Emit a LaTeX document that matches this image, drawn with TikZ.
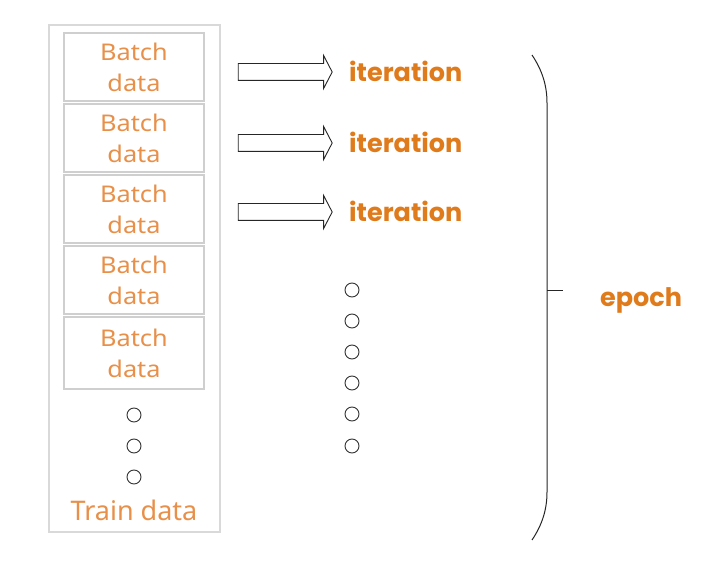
\documentclass[tikz,border=0pt]{standalone}
\usepackage{fontspec}
\setmainfont{Noto Sans}
\newfontfamily\batchfam{Noto Sans}[FakeStretch=1.1]
\newfontfamily\boldfam{Poppins}[UprightFont=* Bold]
\usetikzlibrary{shapes.arrows}
\definecolor{batchor}{HTML}{E8904A}
\definecolor{iteror}{HTML}{E07B1C}
\definecolor{boxgray}{HTML}{CFCFCF}
\tikzset{
  batchbox/.style={draw=boxgray, line width=1.2pt, minimum width=140pt, minimum height=68pt, inner sep=0pt,
    text=batchor, align=center, font=\batchfam\fontsize{23}{31}\selectfont},
  iterlabel/.style={text=iteror, font=\boldfam\fontsize{25.5}{28}\selectfont, anchor=west, inner sep=0pt},
  dotc/.style={draw=black!80, line width=0.9pt, circle, minimum size=14pt, inner sep=0pt},
  fatarrow/.style={draw=black!85, line width=0.9pt, single arrow, single arrow head extend=8pt,
    single arrow tip angle=125, minimum height=94pt, inner sep=0pt},
}
\begin{document}
\begin{tikzpicture}[x=1pt,y=-1pt]
\useasboundingbox[fill=white] (0,0) rectangle (718,572);
\node[draw=boxgray!80, line width=1.2pt, minimum width=171pt, minimum height=507pt, inner sep=0pt] (train) at (134.5,278.5) {};
\node[batchbox] (b1) at (134,67) {Batch\\data};
\node[batchbox] (b2) at (134,138) {Batch\\data};
\node[batchbox] (b3) at (134,209) {Batch\\data};
\node[batchbox] (b4) at (134,280) {Batch\\data};
\node[batchbox, minimum height=72pt] (b5) at (134,353) {Batch\\data};
\node[dotc] (l1) at (134,415) {};
\node[dotc] (l2) at (134,446) {};
\node[dotc] (l3) at (134,477) {};
\node[text=batchor, font=\fontsize{27}{30}\selectfont, inner sep=0pt] (tl) at (134,510) {Train data};

\node[fatarrow] (a1) at (283,72) {\rule{0pt}{16pt}};
\node[fatarrow] (a2) at (283,143) {\rule{0pt}{16pt}};
\node[fatarrow] (a3) at (283,212) {\rule{0pt}{16pt}};
\node[iterlabel] (i1) at (349,71) {iteration};
\node[iterlabel] (i2) at (349,142) {iteration};
\node[iterlabel] (i3) at (349,211) {iteration};

\foreach \y [count=\k] in {290,321,352,383,414,446} \node[dotc] (r\k) at (352,\y) {};

\coordinate (bt) at (532,55);
\coordinate (bb) at (532,540);
\coordinate (bm) at (547,291);
\coordinate (btick) at (563,291);
\draw[black!85, line width=1pt] (bt) .. controls (542,70) and (547,85) .. (547,103) -- (547,492)
  .. controls (547,510) and (542,525) .. (bb);
\draw[black!85, line width=1pt] (bm) -- (btick);
\node[iterlabel] (ep) at (600,300) {epoch};
\end{tikzpicture}
\end{document}
